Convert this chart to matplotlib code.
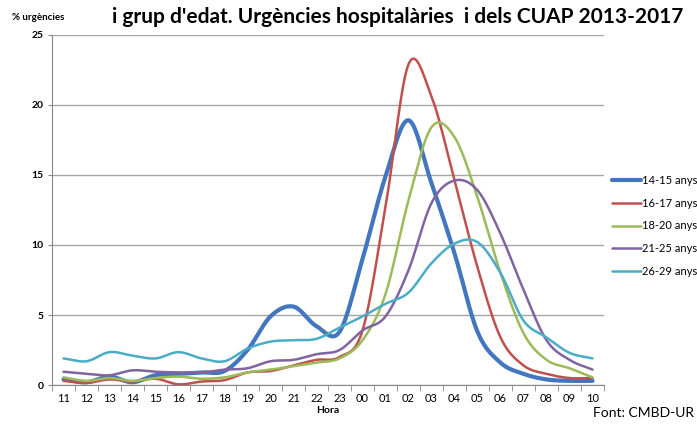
import numpy as np
import matplotlib.pyplot as plt

# ------------------------------------------------------------
#   DATA
# ------------------------------------------------------------
hores = ['11', '12', '13', '14', '15', '16', '17', '18', '19', '20', '21', '22',
         '23', '00', '01', '02', '03', '04', '05', '06', '07', '08', '09', '10']

g_14_15 = [0.4, 0.2, 0.6, 0.2, 0.7, 0.8, 0.9, 1.0, 2.5, 4.9, 5.6, 4.2,
           3.8, 9.0, 14.9, 18.9, 14.4, 9.4, 3.8, 1.6, 0.8, 0.4, 0.3, 0.3]
g_16_17 = [0.3, 0.15, 0.4, 0.25, 0.45, 0.05, 0.25, 0.35, 0.9, 1.0, 1.4, 1.8,
           2.0, 3.9, 12.7, 22.9, 20.6, 14.6, 8.4, 3.4, 1.4, 0.8, 0.5, 0.5]
g_18_20 = [0.55, 0.3, 0.5, 0.3, 0.5, 0.6, 0.45, 0.55, 0.9, 1.1, 1.35, 1.6,
           1.9, 3.2, 6.5, 13.2, 18.4, 17.7, 13.4, 8.0, 3.7, 1.8, 1.2, 0.55]
g_21_25 = [0.95, 0.8, 0.7, 1.05, 0.95, 0.9, 0.9, 1.1, 1.2, 1.7, 1.8, 2.2,
           2.5, 3.9, 4.9, 8.2, 13.0, 14.6, 13.9, 10.8, 6.8, 3.2, 1.8, 1.1]
g_26_29 = [1.9, 1.7, 2.35, 2.1, 1.9, 2.35, 1.9, 1.7, 2.6, 3.1, 3.2, 3.3,
           4.1, 4.9, 5.8, 6.6, 8.7, 10.1, 10.2, 8.0, 4.6, 3.4, 2.3, 1.9]

series = [g_14_15, g_16_17, g_18_20, g_21_25, g_26_29]
labels = ['14-15 anys', '16-17 anys', '18-20 anys', '21-25 anys', '26-29 anys']
colors = ['#4276BE', '#C0504D', '#9BBB59', '#8064A2', '#4BACC6']
widths = [3.0, 1.8, 1.8, 1.8, 1.8]

# ------------------------------------------------------------
#   SMOOTH LINE (Excel style, Catmull-Rom through the points)
# ------------------------------------------------------------
def smooth(x, y, n=20):
    x = np.asarray(x, float)
    y = np.asarray(y, float)
    px = np.concatenate([[2 * x[0] - x[1]], x, [2 * x[-1] - x[-2]]])
    py = np.concatenate([[2 * y[0] - y[1]], y, [2 * y[-1] - y[-2]]])
    xs, ys = [], []
    t = np.linspace(0, 1, n, endpoint=False)
    for i in range(1, len(px) - 2):
        for p, out in ((px, xs), (py, ys)):
            p0, p1, p2, p3 = p[i - 1], p[i], p[i + 1], p[i + 2]
            out.extend(0.5 * ((2 * p1) + (-p0 + p2) * t
                              + (2 * p0 - 5 * p1 + 4 * p2 - p3) * t ** 2
                              + (-p0 + 3 * p1 - 3 * p2 + p3) * t ** 3))
    xs.append(x[-1])
    ys.append(y[-1])
    return np.array(xs), np.array(ys)

# ------------------------------------------------------------
#   PLOT
# ------------------------------------------------------------
plt.rcParams['font.family'] = ['Lato', 'DejaVu Sans']

fig = plt.figure(figsize=(6.97, 4.25), dpi=100)
ax = fig.add_axes([0.0746, 0.094, 0.792, 0.824])

x = np.arange(len(hores))
for s, lab, c, w in zip(series, labels, colors, widths):
    sx, sy = smooth(x, s)
    ax.plot(sx, sy, color=c, lw=w, label=lab, solid_capstyle='round')

ax.set_xlim(-0.5, len(hores) - 0.5)
ax.set_ylim(0, 25)
ax.set_yticks([0, 5, 10, 15, 20, 25])
ax.set_yticklabels(['0', '5', '10', '15', '20', '25'], fontsize=7.5, fontweight='bold')
ax.set_xticks(x)
ax.set_xticklabels(hores, fontsize=8)
ax.set_xticks(np.arange(-0.5, len(hores)), minor=True)
ax.tick_params(axis='x', which='major', length=0, pad=6)
ax.tick_params(axis='x', which='minor', length=4, color='#888888')
ax.tick_params(axis='y', length=3, color='#888888', pad=3)
ax.grid(axis='y', color='#A6A6A6', lw=1)
ax.set_axisbelow(True)
for sp in ['top', 'right']:
    ax.spines[sp].set_visible(False)
for sp in ['left', 'bottom']:
    ax.spines[sp].set_color('#888888')

ax.set_xlabel('Hora', fontsize=7.5, fontweight='bold', labelpad=1)

fig.text(0.017, 0.958, '% urgències', fontsize=7, fontweight='bold', ha='left', va='center')
fig.text(0.571, 0.96, "i grup d'edat. Urgències hospitalàries  i dels CUAP 2013-2017",
         fontsize=15, fontweight='bold', ha='center', va='center')
fig.text(0.995, 0.015, 'Font: CMBD-UR', fontsize=10, ha='right', va='bottom')

fig.legend(loc='upper left', bbox_to_anchor=(0.878, 0.588), frameon=False,
           borderpad=0, borderaxespad=0, fontsize=8, handlelength=2.6,
           handletextpad=0.1, labelspacing=1.05)

fig.savefig('out.png', dpi=100)
